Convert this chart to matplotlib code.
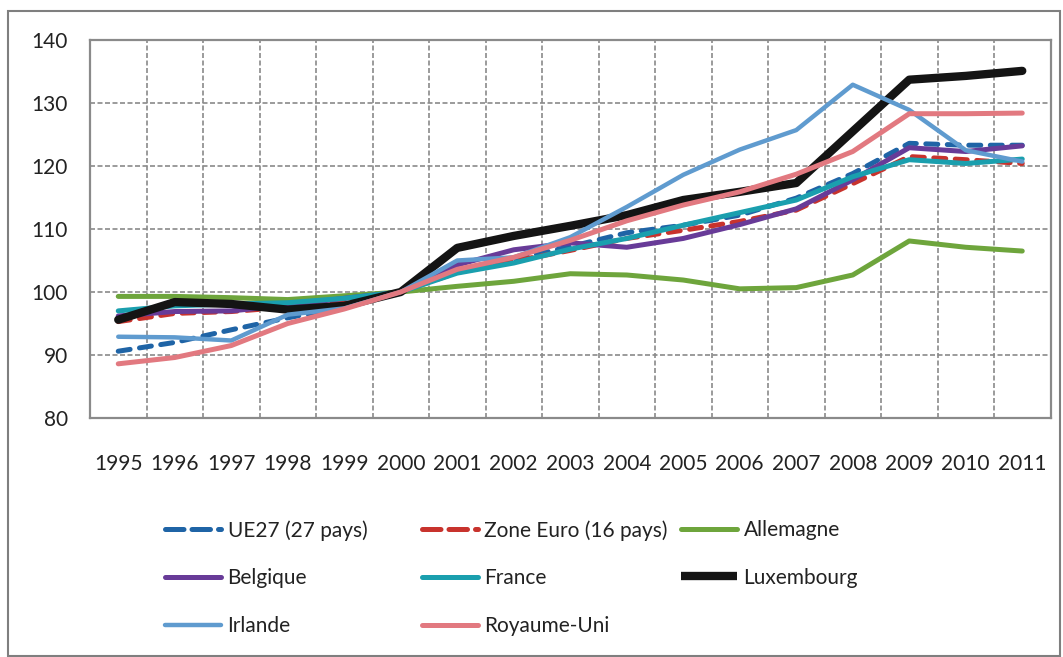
import matplotlib
matplotlib.use("Agg")
import matplotlib.pyplot as plt
from matplotlib.lines import Line2D
from matplotlib.patches import Rectangle

plt.rcParams['font.family'] = ['Lato', 'DejaVu Sans']

annees = [str(a) for a in range(1995, 2012)]

ue27 = [90.6, 92.0, 94.0, 95.9, 97.6, 100, 103.3, 105.2, 107.2, 109.4, 110.6, 112.2, 114.9, 118.8, 123.6, 123.3, 123.3]
zone_euro = [95.3, 96.6, 96.9, 97.6, 98.6, 100, 103.1, 104.9, 106.6, 108.5, 109.8, 111.2, 113.0, 117.2, 121.5, 121.0, 120.4]
allemagne = [99.3, 99.3, 99.1, 98.8, 99.4, 100, 100.9, 101.7, 102.9, 102.7, 101.9, 100.5, 100.7, 102.7, 108.1, 107.1, 106.5]
belgique = [96.2, 96.9, 97.0, 97.9, 99.0, 100, 104.3, 106.7, 107.8, 107.1, 108.5, 110.7, 113.2, 117.8, 122.9, 122.3, 123.2]
france = [97.0, 97.8, 98.1, 98.3, 99.0, 100, 103.0, 104.6, 106.8, 108.5, 110.6, 112.6, 114.6, 118.3, 121.0, 120.4, 121.1]
luxembourg = [95.6, 98.4, 98.1, 97.2, 97.8, 100, 107.0, 108.9, 110.5, 112.2, 114.6, 115.9, 117.3, 125.5, 133.7, 134.3, 135.1]
irlande = [92.9, 92.8, 92.3, 96.4, 97.4, 100, 105.0, 105.5, 108.7, 113.5, 118.6, 122.6, 125.7, 132.9, 128.9, 122.5, 120.7]
royaume_uni = [88.6, 89.6, 91.5, 95.0, 97.3, 100, 103.6, 105.5, 108.2, 111.3, 113.8, 115.9, 118.7, 122.3, 128.3, 128.3, 128.4]

tirets = (0, (2.4, 1.9))
series = [
    ("UE27 (27 pays)", ue27, "#1f64a6", 3.6, tirets),
    ("Zone Euro (16 pays)", zone_euro, "#c8332d", 3.6, tirets),
    ("Allemagne", allemagne, "#6ea53c", 3.6, "-"),
    ("Belgique", belgique, "#683b98", 3.6, "-"),
    ("France", france, "#1a9fae", 3.6, "-"),
    ("Luxembourg", luxembourg, "#141414", 6.0, "-"),
    ("Irlande", irlande, "#5f9bcf", 3.2, "-"),
    ("Royaume-Uni", royaume_uni, "#e27980", 3.6, "-"),
]

fig = plt.figure(figsize=(10.63, 6.57), dpi=100)
fig.patches.append(Rectangle((8 / 1063, 1 / 657), 1052 / 1063, 645 / 657,
                             transform=fig.transFigure, fill=False,
                             edgecolor="#7f7f7f", linewidth=1.5))

ax = fig.add_axes([90 / 1063, 1 - 418 / 657, 960.5 / 1063, 378 / 657])

x = list(range(len(annees)))
handles = {}
for nom, vals, couleur, lw, style in series:
    h, = ax.plot(x, vals, color=couleur, linewidth=lw, linestyle=style,
                 solid_capstyle="round", dash_capstyle="round", label=nom)
    handles[nom] = h

ax.set_xlim(-0.5, len(annees) - 0.5)
ax.set_ylim(80, 140)
ax.set_yticks(range(80, 141, 10))
ax.set_xticks(x)
ax.set_xticklabels(annees)
ax.tick_params(axis="both", which="both", length=0, labelsize=15, colors="#222222")
ax.tick_params(axis="y", pad=16)
ax.tick_params(axis="x", pad=26)
ax.grid(False)
for g in range(90, 140, 10):
    ax.axhline(g, color="#8a8a8a", linestyle=(0, (3, 1.5)), linewidth=1.2, zorder=0)
for i in x[:-1]:
    ax.axvline(i + 0.5, color="#8a8a8a", linestyle=(0, (3, 1.5)), linewidth=1.2, zorder=0)
for s in ax.spines.values():
    s.set_color("#8a8a8a")
    s.set_linewidth(1.6)

# legende en trois colonnes, comme dans l'original
colonnes = [
    (165, ["UE27 (27 pays)", "Belgique", "Irlande"]),
    (422, ["Zone Euro (16 pays)", "France", "Royaume-Uni"]),
    (681, ["Allemagne", "Luxembourg"]),
]
for xc, noms in colonnes:
    hs = []
    for nom in noms:
        h = handles[nom]
        cap = "butt" if nom == "Luxembourg" else "round"
        hs.append(Line2D([], [], color=h.get_color(), linewidth=h.get_linewidth(),
                         linestyle=h.get_linestyle(), solid_capstyle=cap,
                         dash_capstyle="round"))
    leg = fig.legend(hs, noms, loc="upper left",
                     bbox_to_anchor=(xc / 1063, 1 - 520 / 657),
                     frameon=False, fontsize=15, handlelength=2.7,
                     handletextpad=0.3, labelspacing=1.33, borderaxespad=0,
                     borderpad=0)
    for t in leg.get_texts():
        t.set_color("#222222")

fig.savefig("out.png", dpi=100)
